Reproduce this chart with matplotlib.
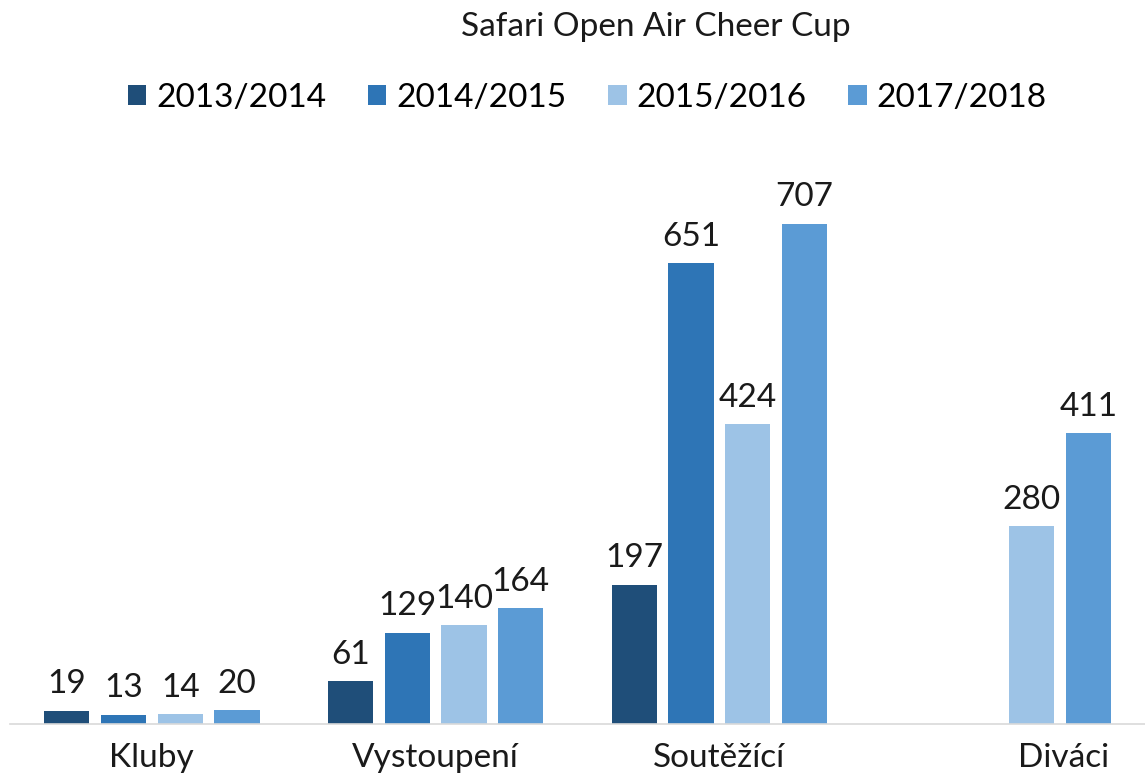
import numpy as np
import matplotlib.pyplot as plt
import matplotlib.transforms as mtransforms

plt.rcParams['font.family'] = ['Lato', 'DejaVu Sans']

categories = ['Kluby', 'Vystoupení', 'Soutěžící', 'Diváci']
seasons = ['2013/2014', '2014/2015', '2015/2016', '2017/2018']
values = {
    '2013/2014': [19, 61, 197, np.nan],
    '2014/2015': [13, 129, 651, np.nan],
    '2015/2016': [14, 140, 424, 280],
    '2017/2018': [20, 164, 707, 411],
}
colors = ['#1f4e79', '#2e75b6', '#9dc3e6', '#5b9bd5']

fig = plt.figure(figsize=(11.45, 7.79), dpi=100)
ax = fig.add_axes([10 / 1145, 55 / 779, 1135 / 1145, 566 / 779])

x = np.arange(len(categories))
slot = 0.2
width = 0.16
for i, s in enumerate(seasons):
    pos = x + (i - 1.5) * slot
    vals = values[s]
    ax.bar(pos, vals, width, color=colors[i], label=s)
    for p, v in zip(pos, vals):
        if not np.isnan(v):
            ax.text(p, v + 16, f'{v:g}', ha='center', va='bottom', fontsize=24, color='#1a1a1a')

ax.set_xlim(-0.5, len(categories) - 0.5)
ax.set_ylim(0, 800)
ax.set_yticks([])
ax.set_xticks(x)
ax.set_xticklabels(categories, fontsize=24, color='#1a1a1a')
ax.tick_params(axis='x', length=0, pad=14)
# the last category label sits right of its group in the original
lbl = ax.get_xticklabels()[-1]
lbl.set_transform(lbl.get_transform() + mtransforms.ScaledTranslation(0.6, 0, fig.dpi_scale_trans))
for side in ['top', 'right', 'left']:
    ax.spines[side].set_visible(False)
ax.spines['bottom'].set_color('#d9d9d9')
ax.spines['bottom'].set_linewidth(1.2)

fig.text(0.573, 0.965, 'Safari Open Air Cheer Cup', ha='center', va='center', fontsize=24, color='#1a1a1a')
fig.legend(loc='center', bbox_to_anchor=(0.513, 0.874), ncol=4, frameon=False,
           fontsize=24, handlelength=0.55, handleheight=0.55, handletextpad=0.3, columnspacing=1.25)

fig.savefig('out.png', dpi=100)
